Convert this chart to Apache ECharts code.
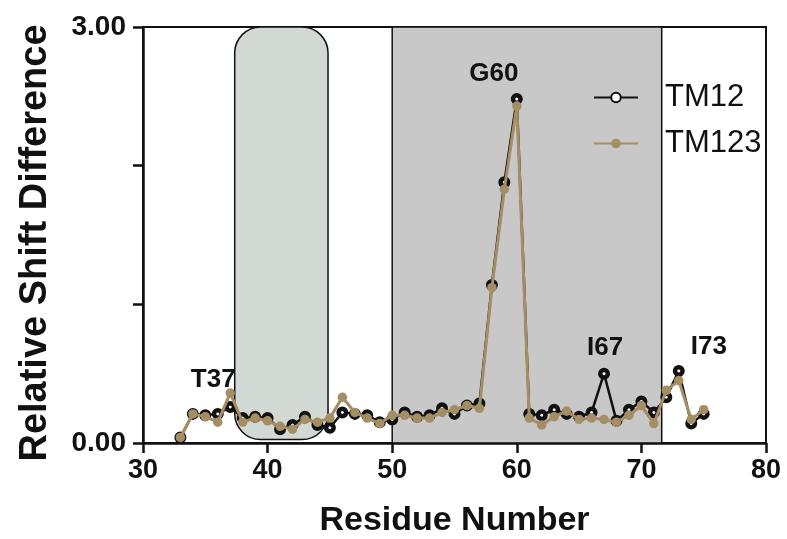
<!DOCTYPE html>
<html>
<head>
<meta charset="utf-8">
<script src="https://cdn.jsdelivr.net/npm/echarts@6/dist/echarts.min.js"></script>
<style>
  html, body { margin: 0; padding: 0; background: #fff; }
  #chart { width: 787px; height: 539px; }
</style>
</head>
<body>
<div id="chart"></div>
<script>
// Residue numbers along the sequence
const residues = [33,34,35,36,37,38,39,40,41,42,43,44,45,46,47,48,49,50,51,52,53,54,
  55,56,57,58,59,60,61,62,63,64,65,66,67,68,69,70,71,72,73,74,75];

// Relative chemical shift differences
const tm12 = [0.04,0.21,0.20,0.21,0.26,0.18,0.19,0.18,0.10,0.13,0.19,0.13,0.11,0.22,0.21,0.20,0.15,0.17,
  0.22,0.19,0.20,0.25,0.21,0.27,0.285,1.14,1.88,2.48,0.21,0.20,0.24,0.21,0.19,0.22,0.50,0.16,0.24,0.30,
  0.22,0.33,0.52,0.14,0.21];
const tm123 = [0.04,0.21,0.19,0.15,0.36,0.15,0.18,0.16,0.12,0.10,0.17,0.15,0.18,0.33,0.22,0.18,0.14,0.20,
  0.20,0.18,0.18,0.22,0.24,0.27,0.25,1.12,1.83,2.43,0.18,0.13,0.19,0.23,0.17,0.18,0.17,0.15,0.20,0.27,
  0.14,0.38,0.45,0.17,0.24];

// Annotated residues: [residue, text, dx, dy]
const annotations = [[37, 'T37', -17, -3], [60, 'G60', -23, -1], [67, 'I67', 1, -2], [73, 'I73', 30, 0]];

// Highlighted regions: [xStart, xEnd, yTop, yBottom]
const roundedBox = [[37.36, 44.85, 3.0, 0.025]];
const shadedBox = [[50, 71.63, 3.0, 0.0]];

const yTickLabels = { 0: '0.00', 3: '3.00' };

const BLACK = '#111111';
const TAN = '#a58d64';
const FONT = '"Liberation Sans", Arial, Helvetica, sans-serif';

function pairs(ys) { return residues.map((r, i) => [r, ys[i]]); }

const tm12Data = pairs(tm12).map(p => {
  const a = annotations.find(x => x[0] === p[0]);
  if (!a) return p;
  return {
    value: p,
    label: {
      show: true, formatter: a[1], position: 'top', offset: [a[2], a[3]],
      fontFamily: FONT, fontWeight: 'bold', fontSize: 26, color: '#111'
    }
  };
});

function boxRenderer(fill, radius, lw) {
  return function (params, api) {
    const p0 = api.coord([api.value(0), api.value(2)]);
    const p1 = api.coord([api.value(1), api.value(3)]);
    return {
      type: 'rect',
      shape: { x: p0[0], y: p0[1], width: p1[0] - p0[0], height: p1[1] - p0[1], r: radius },
      style: { fill: fill, stroke: '#111', lineWidth: lw }
    };
  };
}

const chart = echarts.init(document.getElementById('chart'), null, { renderer: 'canvas' });
chart.setOption({
  animation: false,
  backgroundColor: '#fff',
  grid: {
    left: 143, right: 21, top: 27, bottom: 96,
    outerBoundsMode: 'none', containLabel: false,
    show: true, borderColor: '#111', borderWidth: 2, backgroundColor: 'transparent'
  },
  legend: {
    orient: 'vertical', left: 593, top: 82, padding: 0,
    itemWidth: 44, itemHeight: 12, itemGap: 15,
    data: ['TM12', 'TM123'],
    textStyle: { fontFamily: FONT, fontSize: 31, lineHeight: 31, color: '#111', padding: [0, 0, 0, 22] }
  },
  xAxis: {
    type: 'value', min: 30, max: 80, interval: 10,
    name: 'Residue Number', nameLocation: 'middle', nameGap: 61,
    nameTextStyle: { fontFamily: FONT, fontWeight: 'bold', fontSize: 34, color: '#111' },
    axisLine: { lineStyle: { color: '#111', width: 2.5 } },
    axisTick: { inside: false, length: 10, lineStyle: { color: '#111', width: 2.5 } },
    axisLabel: { fontFamily: FONT, fontWeight: 'bold', fontSize: 27, color: '#111', margin: 14 },
    splitLine: { show: false }
  },
  yAxis: {
    type: 'value', min: 0, max: 3, interval: 1,
    name: 'Relative Shift Difference', nameLocation: 'middle', nameGap: 88,
    nameTextStyle: { fontFamily: FONT, fontWeight: 'bold', fontSize: 38, color: '#111', padding: [0, 16, 0, 0] },
    axisLine: { lineStyle: { color: '#111', width: 2.5 } },
    axisTick: { inside: false, length: 10, lineStyle: { color: '#111', width: 2.5 } },
    axisLabel: {
      fontFamily: FONT, fontWeight: 'bold', fontSize: 28, color: '#111', margin: 17,
      formatter: v => (yTickLabels[v] !== undefined ? yTickLabels[v] : '')
    },
    splitLine: { show: false }
  },
  series: [
    {
      type: 'custom', name: 'shaded', silent: true, z: 1,
      renderItem: boxRenderer('#c8c8c8', 0, 1.5),
      data: shadedBox, encode: { x: [0, 1], y: [2, 3] }
    },
    {
      type: 'custom', name: 'rounded', silent: true, z: 1,
      renderItem: boxRenderer('#d2d9d5', 26, 1.5),
      data: roundedBox, encode: { x: [0, 1], y: [2, 3] }
    },
    {
      type: 'line', name: 'TM12', z: 3,
      data: tm12Data,
      symbol: 'circle', symbolSize: 7.5,
      lineStyle: { color: BLACK, width: 2.5 },
      itemStyle: { color: '#ffffff', borderColor: BLACK, borderWidth: 4.5 }
    },
    {
      type: 'line', name: 'TM123', z: 4,
      data: pairs(tm123),
      symbol: 'circle', symbolSize: 9.5,
      lineStyle: { color: TAN, width: 3 },
      itemStyle: { color: TAN, borderColor: TAN, borderWidth: 0 }
    }
  ]
});
</script>
</body>
</html>
